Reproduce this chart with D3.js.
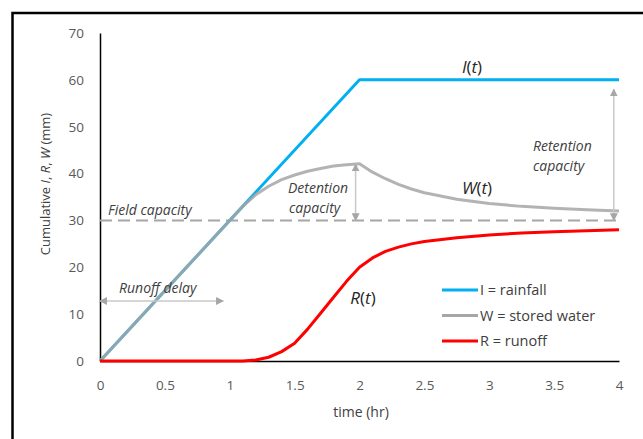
<!DOCTYPE html>
<html>
<head>
<meta charset="utf-8">
<script src="https://cdn.jsdelivr.net/npm/d3@7"></script>
<style>
  body { margin: 0; background: #fff; }
  svg { display: block; font-family: "Open Sans", Lato, sans-serif; }
</style>
</head>
<body>
<script>
var width = 643,
  height = 439

// data
var xTicks = [0, 0.5, 1, 1.5, 2, 2.5, 3, 3.5, 4]
var yTicks = [0, 10, 20, 30, 40, 50, 60, 70]

var rainT = [0, 2, 4]
var rainV = [0, 60, 60]

var waterT = [0, 1.1, 1.2, 1.3, 1.4, 1.5, 1.6, 1.7, 1.8, 1.9, 2.0, 2.1, 2.2, 2.3, 2.4, 2.5, 2.75, 3.0, 3.25, 3.5, 3.75, 4.0]
var waterV = [0, 33, 35.5, 37.3, 38.7, 39.7, 40.5, 41.1, 41.6, 41.9, 42.1, 40.3, 38.9, 37.7, 36.7, 35.9, 34.5, 33.6, 33.0, 32.6, 32.3, 32.0]

var runoffT = [0, 1.1, 1.2, 1.3, 1.4, 1.5, 1.6, 1.7, 1.8, 1.9, 2.0, 2.1, 2.2, 2.3, 2.4, 2.5, 2.75, 3.0, 3.25, 3.5, 3.75, 4.0]
var runoffV = [0, 0, 0.2, 0.8, 2.0, 3.8, 6.8, 10.2, 13.6, 17.0, 20.0, 22.0, 23.4, 24.3, 25.0, 25.5, 26.3, 26.9, 27.3, 27.6, 27.8, 28.0]

var fieldCapacity = 30
var runoffDelay = [0, 0.95]
var delayLevel = 12.8

var legendNames = ['I = rainfall', 'W = stored water', 'R = runoff']
var colors = ['#00b0f0', '#a6a6a6', '#ff0000']

var svg = d3.select('body').append('svg')
  .attr('width', width)
  .attr('height', height)

// outer frame
svg.append('rect')
  .attr('x', 12.5)
  .attr('y', 13)
  .attr('width', 700)
  .attr('height', 500)
  .attr('fill', 'none')
  .attr('stroke', '#000')
  .attr('stroke-width', 2.5)

var x = d3.scaleLinear().domain([0, 4]).range([100, 619])
var y = d3.scaleLinear().domain([0, 70]).range([361, 33])

var defs = svg.append('defs')
defs.append('marker')
  .attr('id', 'head')
  .attr('viewBox', '0 0 10 10')
  .attr('refX', 9)
  .attr('refY', 5)
  .attr('markerWidth', 8)
  .attr('markerHeight', 8)
  .attr('markerUnits', 'userSpaceOnUse')
  .attr('orient', 'auto-start-reverse')
  .append('path')
  .attr('d', 'M0,0L10,5L0,10Z')
  .attr('fill', '#a6a6a6')

// axes
svg.append('g')
  .attr('transform', 'translate(0,' + y(0) + ')')
  .call(d3.axisBottom(x).tickValues(xTicks).tickFormat(d3.format('~g'))
    .tickSize(0).tickSizeOuter(0).tickPadding(19))
svg.append('g')
  .attr('transform', 'translate(' + x(0) + ',0)')
  .call(d3.axisLeft(y).tickValues(yTicks).tickSize(0).tickSizeOuter(0).tickPadding(16))

svg.selectAll('.domain').attr('stroke', '#000').attr('stroke-width', 1.5)
svg.selectAll('.tick text')
  .attr('fill', '#595959')
  .style('font-family', '"Open Sans", sans-serif')
  .style('font-size', '13.5px')

svg.append('text')
  .attr('x', 361)
  .attr('y', 417)
  .attr('text-anchor', 'middle')
  .attr('fill', '#404040')
  .style('font-size', '14px')
  .text('time (hr)')

var yTitle = svg.append('text')
  .attr('transform', 'translate(50,184) rotate(-90)')
  .attr('text-anchor', 'middle')
  .attr('fill', '#404040')
  .style('font-size', '13px')
yTitle.append('tspan').text('Cumulative ')
yTitle.append('tspan').style('font-style', 'italic').text('I')
yTitle.append('tspan').text(', ')
yTitle.append('tspan').style('font-style', 'italic').text('R')
yTitle.append('tspan').text(', ')
yTitle.append('tspan').style('font-style', 'italic').text('W')
yTitle.append('tspan').text(' (mm)')

// field capacity
svg.append('line')
  .attr('x1', x(0)).attr('x2', x(4))
  .attr('y1', y(fieldCapacity)).attr('y2', y(fieldCapacity))
  .attr('stroke', '#a6a6a6')
  .attr('stroke-width', 2)
  .attr('stroke-dasharray', '12,6')

// series
var line = d3.line()
  .x(function (d) { return x(d[0]) })
  .y(function (d) { return y(d[1]) })

var series = [
  d3.zip(rainT, rainV),
  d3.zip(waterT, waterV),
  d3.zip(runoffT, runoffV)
]

svg.selectAll('.series')
  .data(series)
  .enter().append('path')
  .attr('class', 'series')
  .attr('d', line)
  .attr('fill', 'none')
  .attr('stroke', function (d, i) { return colors[i] })
  .attr('stroke-opacity', function (d, i) { return i === 1 ? 0.85 : 1 })
  .attr('stroke-width', 3)
  .attr('stroke-linejoin', 'round')

// arrows
var arrows = [
  [runoffDelay[0], delayLevel, runoffDelay[1], delayLevel],
  [1.97, fieldCapacity, 1.97, 42],
  [3.96, fieldCapacity, 3.96, 58]
]
svg.selectAll('.arrow')
  .data(arrows)
  .enter().append('line')
  .attr('class', 'arrow')
  .attr('x1', function (d) { return x(d[0]) })
  .attr('y1', function (d) { return y(d[1]) })
  .attr('x2', function (d) { return x(d[2]) })
  .attr('y2', function (d) { return y(d[3]) })
  .attr('stroke', '#c8c8c8')
  .attr('stroke-width', 1.5)
  .attr('marker-start', 'url(#head)')
  .attr('marker-end', 'url(#head)')

// annotations
var notes = [
  {x: 108, y: 215, t: 'Field capacity'},
  {x: 119, y: 293, t: 'Runoff delay'},
  {x: 288, y: 193, t: 'Detention'},
  {x: 289, y: 213, t: 'capacity'},
  {x: 533, y: 151, t: 'Retention'},
  {x: 533, y: 171, t: 'capacity'}
]
svg.selectAll('.note')
  .data(notes)
  .enter().append('text')
  .attr('class', 'note')
  .attr('x', function (d) { return d.x })
  .attr('y', function (d) { return d.y })
  .attr('fill', '#404040')
  .style('font-size', '14px')
  .style('font-style', 'italic')
  .text(function (d) { return d.t })

var labels = [
  {x: 472, y: 73, v: 'I'},
  {x: 477, y: 194, v: 'W'},
  {x: 363, y: 304, v: 'R'}
]
var lab = svg.selectAll('.lab')
  .data(labels)
  .enter().append('text')
  .attr('class', 'lab')
  .attr('x', function (d) { return d.x })
  .attr('y', function (d) { return d.y })
  .attr('text-anchor', 'middle')
  .attr('fill', '#262626')
  .style('font-size', '17px')
lab.append('tspan').style('font-style', 'italic').text(function (d) { return d.v })
lab.append('tspan').text('(')
lab.append('tspan').style('font-style', 'italic').text('t')
lab.append('tspan').text(')')

// legend
var legend = svg.selectAll('.legend')
  .data(legendNames)
  .enter().append('g')
  .attr('class', 'legend')
  .attr('transform', function (d, i) { return 'translate(442,' + (290 + i * 25.5) + ')' })

legend.append('line')
  .attr('x1', 0).attr('x2', 36)
  .attr('stroke', function (d, i) { return colors[i] })
  .attr('stroke-width', 3)

legend.append('text')
  .attr('x', 38)
  .attr('dy', '0.35em')
  .attr('fill', '#404040')
  .style('font-size', '14.5px')
  .text(function (d) { return d })
</script>
</body>
</html>
